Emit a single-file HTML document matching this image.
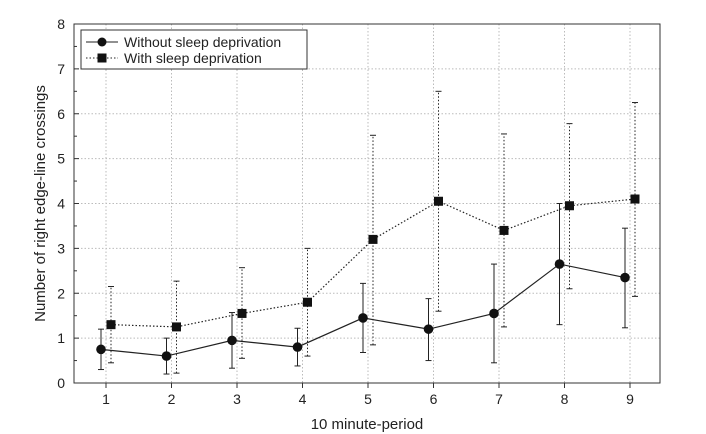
<!DOCTYPE html>
<html><head><meta charset="utf-8"><style>body{margin:0;background:#fff}svg{display:block;font-family:"Liberation Sans",Arial,sans-serif}</style></head>
<body>
<svg id="c" width="706" height="434"></svg>
<script>
const periods=[1,2,3,4,5,6,7,8,9];
const withoutMean=[0.75,0.6,0.95,0.8,1.45,1.2,1.55,2.65,2.35];
const withoutLo=[0.3,0.2,0.33,0.38,0.68,0.5,0.45,1.3,1.23];
const withoutHi=[1.2,1.0,1.57,1.22,2.22,1.88,2.65,4.0,3.45];
const withMean=[1.3,1.25,1.55,1.8,3.2,4.05,3.4,3.95,4.1];
const withLo=[0.45,0.22,0.55,0.6,0.85,1.6,1.25,2.1,1.93];
const withHi=[2.15,2.27,2.57,3.0,5.52,6.5,5.55,5.78,6.25];
const yTicks=[0,1,2,3,4,5,6,7,8];
const L=74,R=660,T=24,B=383;
const X=v=>106+(v-1)*65.5, Y=v=>B-(v/8)*(B-T);
const s=document.getElementById('c'),NS='http://www.w3.org/2000/svg';
function mk(t,a,p){const e=document.createElementNS(NS,t);for(const k in a)e.setAttribute(k,a[k]);(p||s).appendChild(e);return e;}
// grid
yTicks.forEach(v=>{if(v>0&&v<8){const g=mk('line',{x1:L,x2:R,y1:Y(v),y2:Y(v),stroke:'#bbb','stroke-dasharray':'1.5,2'});

}});
periods.forEach(p=>{const g=mk('line',{x1:X(p),x2:X(p),y1:T,y2:B,stroke:'#bbb','stroke-dasharray':'1.5,2'});

});
const fr=mk('rect',{x:L,y:T,width:R-L,height:B-T,fill:'none',stroke:'#333','stroke-width':1});


// y ticks
for(let v=0;v<=8;v+=0.5){mk('line',{x1:L,x2:L+(v%1?3:5),y1:Y(v),y2:Y(v),stroke:'#333'});}
yTicks.forEach(v=>{const t=mk('text',{x:L-9,y:Y(v)+5,'text-anchor':'end','font-size':14,fill:'#222'});t.textContent=v;

});
periods.forEach(p=>{mk('line',{x1:X(p),x2:X(p),y1:B,y2:B+5,stroke:'#333'});const t=mk('text',{x:X(p),y:B+21,'text-anchor':'middle','font-size':14,fill:'#222'});t.textContent=p;

});
const xt=mk('text',{x:367,y:429,'text-anchor':'middle','font-size':15,fill:'#222'});xt.textContent='10 minute-period';


const yt=mk('text',{x:0,y:0,'text-anchor':'middle','font-size':15,fill:'#222',transform:`translate(45,${(T+B)/2}) rotate(-90)`});yt.textContent='Number of right edge-line crossings';


function series(mean,lo,hi,off,dash,sq,name){
  const g=mk('g',{});
  
  
  const da=dash?{'stroke-dasharray':'1.5,2'}:{};
  periods.forEach((p,i)=>{const x=X(p)+off;
    mk('line',Object.assign({x1:x,x2:x,y1:Y(lo[i]),y2:Y(hi[i]),stroke:'#222'},da),g);
    [lo[i],hi[i]].forEach(v=>mk('line',{x1:x-3,x2:x+3,y1:Y(v),y2:Y(v),stroke:'#222'},g));});
  mk('polyline',Object.assign({points:periods.map((p,i)=>(X(p)+off)+','+Y(mean[i])).join(' '),fill:'none',stroke:'#222','stroke-width':1.2},da),g);
  periods.forEach((p,i)=>{const x=X(p)+off,y=Y(mean[i]);
    const m=sq?mk('rect',{x:x-4.5,y:y-4.5,width:9,height:9,fill:'#111'},g):mk('circle',{cx:x,cy:y,r:4.8,fill:'#111'},g);
    
    });
}
series(withMean,withLo,withHi,5,true,true,'series-with-sleep-deprivation');
series(withoutMean,withoutLo,withoutHi,-5,false,false,'series-without-sleep-deprivation');
// legend
const lg=mk('g',{});


mk('rect',{x:81,y:30,width:226,height:39,fill:'#fff',stroke:'#333'},lg);
mk('line',{x1:86,x2:118,y1:42,y2:42,stroke:'#222'},lg);mk('circle',{cx:102,cy:42,r:4.5,fill:'#111'},lg);
mk('line',{x1:86,x2:118,y1:58,y2:58,stroke:'#222','stroke-dasharray':'1.5,2'},lg);mk('rect',{x:97.5,y:53.5,width:9,height:9,fill:'#111'},lg);
const l1=mk('text',{x:124,y:47,'font-size':14,fill:'#222'},lg);l1.textContent='Without sleep deprivation';


const l2=mk('text',{x:124,y:63,'font-size':14,fill:'#222'},lg);l2.textContent='With sleep deprivation';


</script>
</body></html>
